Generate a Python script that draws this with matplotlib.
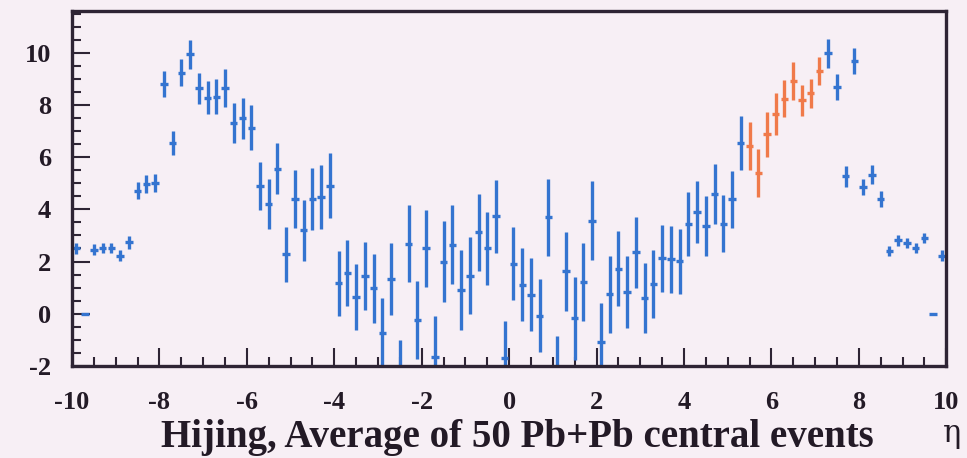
import numpy as np
import matplotlib
matplotlib.use("Agg")
import matplotlib.pyplot as plt
from matplotlib.ticker import MultipleLocator

plt.rcParams['font.family'] = ['Liberation Serif', 'DejaVu Serif']
plt.rcParams['axes.unicode_minus'] = False

# bin centres in eta, 0.2 wide
eta = np.arange(-9.9, 10.0, 0.2).round(1)

values = [
    2.50, 0.00, 2.46, 2.52, 2.52, 2.23, 2.74, 4.71, 4.98, 5.00,
    8.80, 6.54, 9.24, 9.94, 8.64, 8.28, 8.32, 8.64, 7.31, 7.49,
    7.13, 4.91, 4.21, 5.56, 2.27, 4.40, 3.19, 4.39, 4.47, 4.90,
    1.16, 1.57, 0.63, 1.44, 0.98, -0.74, 1.34, -2.40, 2.69, -0.24,
    2.50, -1.64, 1.99, 2.65, 0.90, 1.46, 3.12, 2.50, 3.73, -1.68,
    1.92, 1.12, 0.73, -0.07, 3.69, -2.35, 1.63, -0.18, 1.21, 3.57,
    -1.08, 0.74, 1.73, 0.83, 2.36, 0.62, 1.14, 2.12, 2.08, 2.01,
    3.44, 3.90, 3.35, 4.58, 3.45, 4.38, 6.54, 6.41, 5.40, 6.87,
    7.66, 8.24, 8.92, 8.18, 8.44, 9.31, 9.98, 8.68, 5.26, 9.68,
    4.86, 5.33, 4.40, 2.41, 2.81, 2.71, 2.52, 2.91, 0.00, 2.23,
]
errors = [
    0.20, 0.00, 0.20, 0.20, 0.20, 0.22, 0.25, 0.32, 0.35, 0.35,
    0.50, 0.45, 0.53, 0.56, 0.59, 0.62, 0.67, 0.73, 0.75, 0.78,
    0.85, 0.92, 0.96, 0.99, 1.06, 1.10, 1.15, 1.18, 1.21, 1.24,
    1.25, 1.26, 1.27, 1.29, 1.32, 1.35, 1.37, 1.40, 1.48, 1.50,
    1.49, 1.55, 1.55, 1.50, 1.53, 1.47, 1.47, 1.40, 1.39, 1.40,
    1.40, 1.39, 1.41, 1.41, 1.48, 1.50, 1.51, 1.59, 1.50, 1.50,
    1.50, 1.46, 1.43, 1.37, 1.36, 1.34, 1.31, 1.29, 1.29, 1.25,
    1.22, 1.18, 1.15, 1.16, 1.10, 1.08, 1.05, 0.92, 0.92, 0.86,
    0.80, 0.72, 0.73, 0.60, 0.57, 0.54, 0.55, 0.50, 0.41, 0.49,
    0.32, 0.35, 0.32, 0.20, 0.20, 0.20, 0.20, 0.20, 0.00, 0.20,
]
# bins drawn in orange (eta 5.5 .. 7.1)
orange_lo, orange_hi = 5.5, 7.1

xticks = [-10, -8, -6, -4, -2, 0, 2, 4, 6, 8, 10]
yticks = [-2, 0, 2, 4, 6, 8, 10]

values = np.array(values)
errors = np.array(errors)
is_orange = (eta >= orange_lo) & (eta <= orange_hi)

bg = '#f7eff5'
blue = '#3474d0'
orange = '#f07a4a'
frame = '#2e2434'
ink = '#231a26'

fig = plt.figure(figsize=(9.67, 4.58), dpi=100, facecolor=bg)
ax = fig.add_axes([0.0745, 0.201, 0.904, 0.775], facecolor=bg)

for mask, col in [(~is_orange, blue), (is_orange, orange)]:
    ax.errorbar(eta[mask], values[mask], yerr=errors[mask], xerr=0.085,
                fmt='none', ecolor=col, elinewidth=2.4, capsize=0)

ax.set_xlim(-10, 10)
ax.set_ylim(-2, 11.6)

ax.set_xticks(xticks)
ax.set_xticklabels([str(t) for t in xticks])
ax.set_yticks(yticks)
ax.set_yticklabels([str(t) for t in yticks])
ax.xaxis.set_minor_locator(MultipleLocator(0.5))
ax.yaxis.set_minor_locator(MultipleLocator(0.5))

ax.tick_params(which='major', direction='in', length=13, width=1.5,
               color=frame, labelsize=19, top=False, right=False)
ax.tick_params(axis='x', which='major', pad=18)
ax.tick_params(axis='y', which='major', pad=15)
ax.tick_params(which='minor', direction='in', length=6.5, width=1.5,
               color=frame, top=False, right=False)
for lab in ax.get_xticklabels() + ax.get_yticklabels():
    lab.set_fontweight('bold')
    lab.set_color(ink)

for sp in ax.spines.values():
    sp.set_linewidth(2.4)
    sp.set_color(frame)

fig.text(0.535, 0.004, 'Hijing, Average of 50 Pb+Pb central events',
         ha='center', va='bottom', fontsize=28, fontweight='bold', color=ink)
fig.text(0.985, 0.02, '\u03b7', ha='center', va='bottom', fontsize=22,
         color=ink, family=['DejaVu Serif'])

fig.savefig('out.png', dpi=100, facecolor=bg)
